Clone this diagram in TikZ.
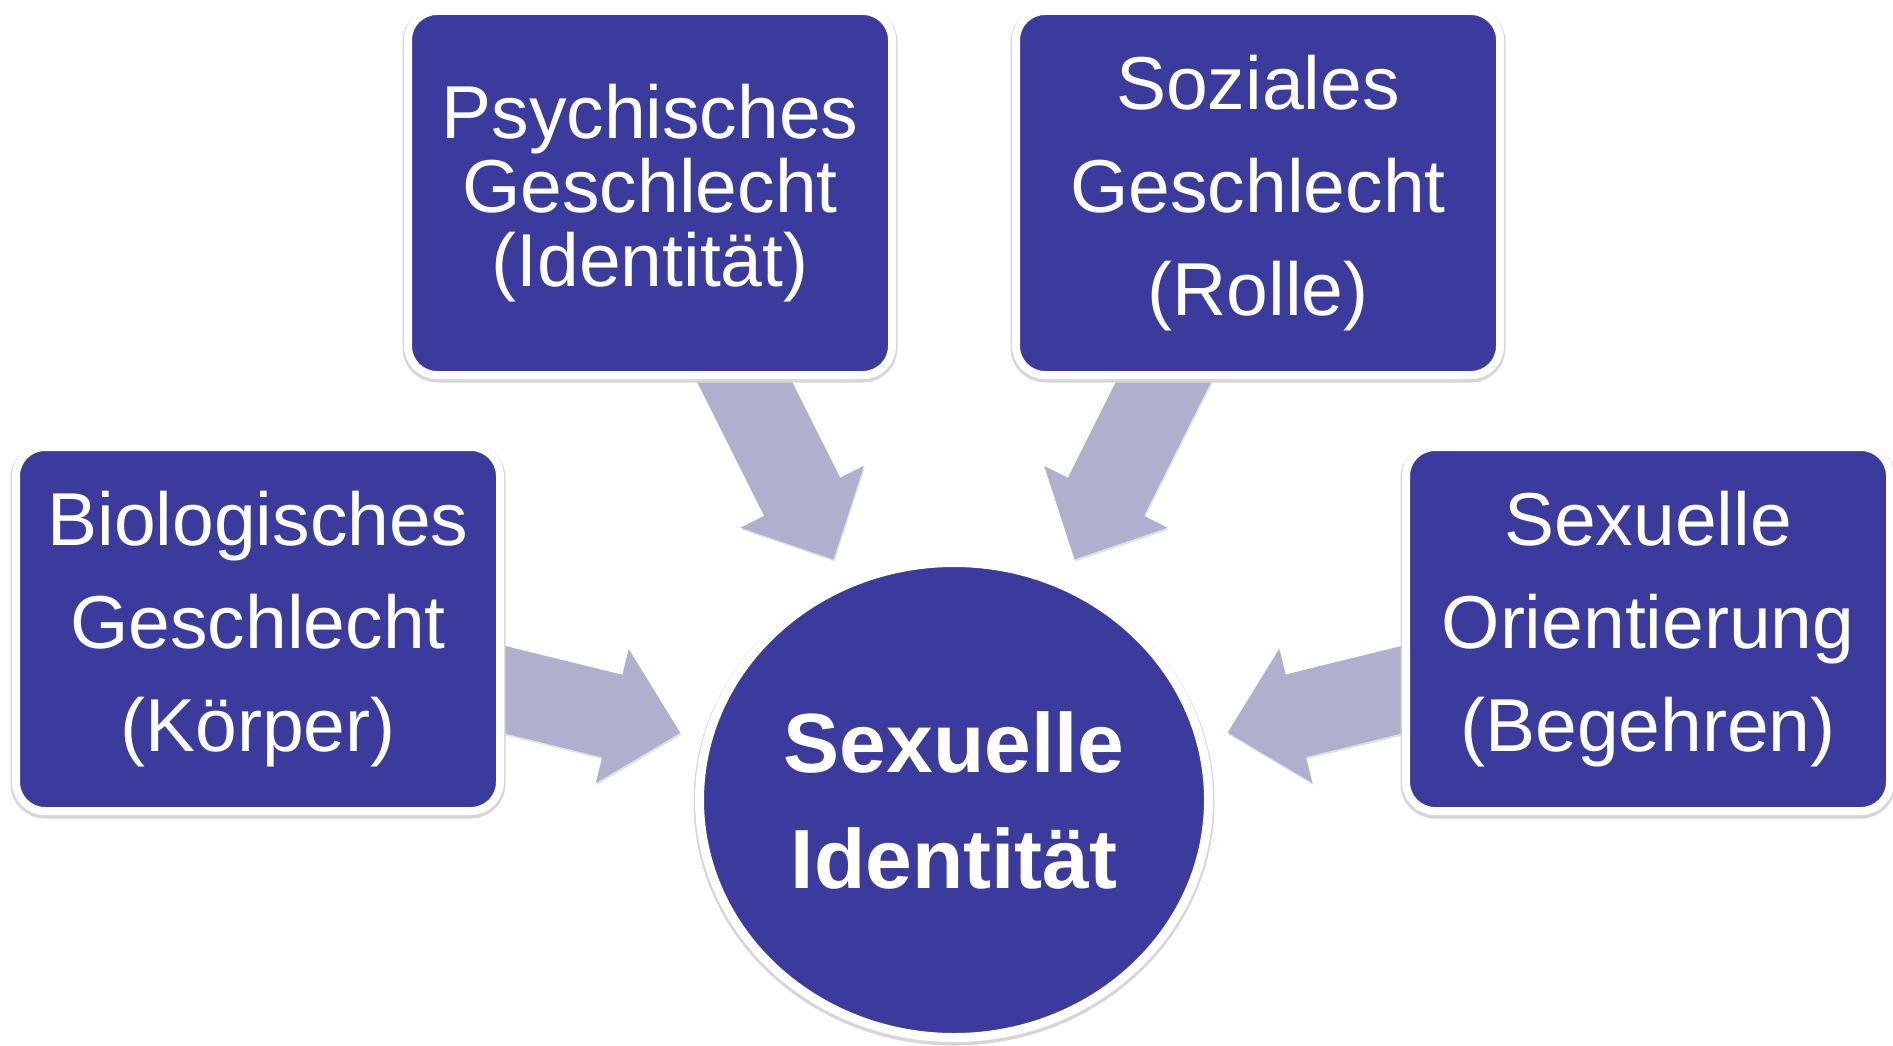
\documentclass[tikz,border=0pt]{standalone}
\usepackage{fontspec}
\setmainfont{Liberation Sans}
\usetikzlibrary{calc,shapes.geometric}
\definecolor{boxc}{RGB}{59,59,158}
\definecolor{arrowc}{RGB}{175,176,205}
\pgfdeclarelayer{background}
\pgfsetlayers{background,main}
\tikzset{
  shadowline/.style={preaction={draw=black!16, line width=#1, transform canvas={yshift=-2pt}}},
  infobox/.style={rectangle, rounded corners=29pt, fill=boxc, draw=white, line width=8pt,
    shadowline=11pt, minimum width=484pt, minimum height=364pt, inner sep=0pt,
    text=white, align=center, font=\fontsize{75pt}{103pt}\selectfont},
  centre/.style={ellipse, fill=boxc, draw=white, line width=9pt, shadowline=12pt,
    minimum width=509pt, minimum height=475pt, inner sep=0pt,
    text=white, align=center, font=\bfseries\fontsize{84pt}{116pt}\selectfont},
  blockarrow/.style={fill=arrowc, preaction={fill=black!12, transform canvas={shift={(1pt,-2pt)}}}}
}
\newcommand\blockarr[2]{%
  \path (#1) -- (#2) coordinate[pos=1] (#1-end);
  \coordinate (#1-tip) at ($(#1-end)!24pt!(#1.center)$);
  \coordinate (#1-base) at ($(#1-tip)!70pt!(#1.center)$);
  \fill[blockarrow] ($(#1.center)!42.5pt!90:(#1-tip)$) -- ($(#1-base)!42.5pt!-90:(#1.center)$)
    -- ($(#1-base)!69pt!-90:(#1.center)$) -- (#1-tip) -- ($(#1-base)!69pt!90:(#1.center)$)
    -- ($(#1-base)!42.5pt!90:(#1.center)$) -- ($(#1.center)!42.5pt!-90:(#1-tip)$) -- cycle;
}
\begin{document}
\begin{tikzpicture}[x=1pt,y=-1pt]
\useasboundingbox (0,0) rectangle (1893,1046);
\node[centre] (sex) at (954,800) {Sexuelle\\Identität};
\node[infobox] (bio) at (258,629) {Biologisches\\Geschlecht\\(Körper)};
\node[infobox, font=\fontsize{75pt}{74pt}\selectfont] (psy) at (650,193) {Psychisches\\Geschlecht\\(Identität)};
\node[infobox] (soz) at (1258,193) {Soziales\\Geschlecht\\(Rolle)};
\node[infobox] (ori) at (1648,629) {Sexuelle\\Orientierung\\(Begehren)};
\begin{pgfonlayer}{background}
\blockarr{bio}{sex}
\blockarr{psy}{sex}
\blockarr{soz}{sex}
\blockarr{ori}{sex}
\end{pgfonlayer}
\end{tikzpicture}
\end{document}
